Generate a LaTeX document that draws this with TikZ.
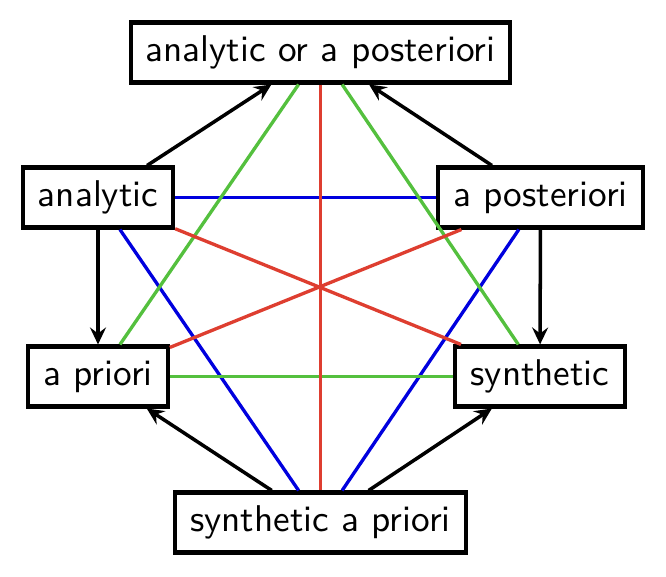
\documentclass[tikz,border=0pt]{standalone}
\usetikzlibrary{arrows.meta}
\begin{document}
\begin{tikzpicture}[box/.style={rectangle,draw,line width=1.15pt,minimum height=0.6cm,inner xsep=4.3pt,font=\sffamily\fontsize{10.6}{12}\selectfont},
    arr/.style={-{Stealth[length=1.7mm,width=1.6mm,inset=0.6mm]},line width=1pt},
    link/.style={line width=0.95pt}]
      \useasboundingbox (0,0) rectangle (6.66,5.77);
      \definecolor{linkred}{RGB}{222,62,48}
      \definecolor{linkgreen}{RGB}{84,192,62}
      \definecolor{linkblue}{RGB}{0,0,222}
      \node[box] (either) at (3.205,5.245) {analytic or a posteriori};
      \node[box] (analytic) at (0.98,3.795) {analytic};
      \node[box] (aposteriori) at (5.405,3.795) {a posteriori};
      \node[box] (apriori) at (0.98,2.005) {a priori};
      \node[box] (synthetic) at (5.40,2.005) {synthetic};
      \node[box] (synapriori) at (3.205,0.545) {synthetic a priori};
      \draw[link,linkblue] (analytic) -- (aposteriori);
      \draw[link,linkblue] (analytic) -- (synapriori);
      \draw[link,linkblue] (aposteriori) -- (synapriori);
      \draw[link,linkgreen] (apriori) -- (synthetic);
      \draw[link,linkgreen] (apriori) -- (either);
      \draw[link,linkgreen] (synthetic) -- (either);
      \draw[link,linkred] (either) -- (synapriori);
      \draw[link,linkred] (analytic) -- (synthetic);
      \draw[link,linkred] (aposteriori) -- (apriori);
      \draw[arr] (analytic) -- (either);
      \draw[arr] (aposteriori) -- (either);
      \draw[arr] (analytic) -- (apriori);
      \draw[arr] (aposteriori) -- (synthetic);
      \draw[arr] (synapriori) -- (apriori);
      \draw[arr] (synapriori) -- (synthetic);
    \end{tikzpicture}
\end{document}
